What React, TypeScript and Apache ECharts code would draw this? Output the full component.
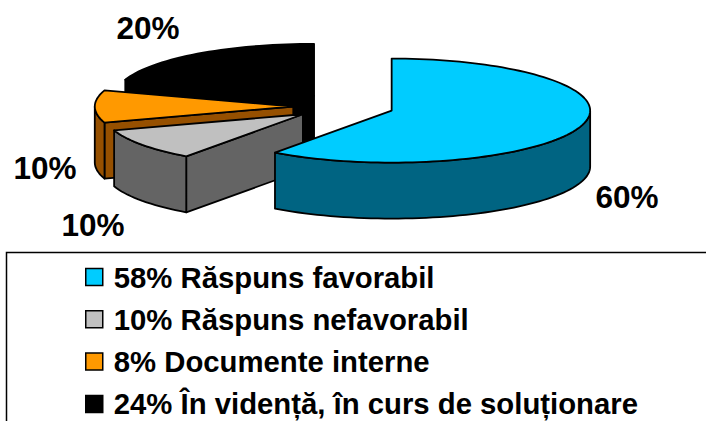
import React, { useEffect, useRef } from "react";
import * as echarts from "echarts";

const legendNames = [
  "58% Răspuns favorabil",
  "10% Răspuns nefavorabil",
  "8% Documente interne",
  "24% În vidență, în curs de soluționare",
];
const sliceValues = [60, 10, 10, 20];
const topColors = ["#00CCFF", "#C0C0C0", "#FF9900", "#000000"];
const sideColors = ["#006482", "#646464", "#965000", "#000000"];
const labelPositions = [
  [627, 197],
  [93, 225],
  [45, 168],
  [148, 28],
];

const CX = 343.7;
const CY = 106.5;
const RX = 198.5;
const RY = 52;
const DEPTH = 56;
const EXPLODE = 0.254;
const LINE = 1.8;
const FONT = "Liberation Sans";

const total = sliceValues.reduce((a, b) => a + b, 0);
const starts: number[] = [];
sliceValues.reduce((acc, v, i) => {
  starts[i] = acc;
  return acc + (v / total) * 360;
}, 0);

const rad = (d: number) => (d * Math.PI) / 180;
const onRim = (ax: number, ay: number, deg: number, dy = 0) => [
  ax + Math.sin(rad(deg)) * RX,
  ay - Math.cos(rad(deg)) * RY + dy,
];
const arc = (ax: number, ay: number, from: number, to: number, dy = 0) => {
  const pts: number[][] = [];
  const steps = Math.max(2, Math.ceil((to - from) / 2));
  for (let i = 0; i <= steps; i++) pts.push(onRim(ax, ay, from + ((to - from) * i) / steps, dy));
  return pts;
};

const makeRenderItem = (index: number) => (_params: any, api: any) => {
  const value = api.value(0) as number;
  const a0 = starts[index];
  const a1 = a0 + (value / total) * 360;
  const mid = (a0 + a1) / 2;
  const ax = CX + Math.sin(rad(mid)) * RX * EXPLODE;
  const ay = CY - Math.cos(rad(mid)) * RY * EXPLODE;
  const style = (fill: string) => ({ fill, stroke: "#000", lineWidth: LINE, lineJoin: "round" });
  const children: any[] = [];
  if (a0 > 180) {
    const p = onRim(ax, ay, a0);
    children.push({
      type: "polygon",
      shape: { points: [[ax, ay], p, [p[0], p[1] + DEPTH], [ax, ay + DEPTH]] },
      style: style(sideColors[index]),
    });
  }
  const w0 = Math.max(a0, 90);
  const w1 = Math.min(a1, 270);
  if (w1 > w0) {
    children.push({
      type: "polygon",
      shape: { points: [...arc(ax, ay, w0, w1), ...arc(ax, ay, w0, w1, DEPTH).reverse()] },
      style: style(sideColors[index]),
    });
  }
  children.push({
    type: "polygon",
    shape: { points: [[ax, ay], ...arc(ax, ay, a0, a1)] },
    style: style(topColors[index]),
  });
  children.push({
    type: "text",
    style: {
      text: `${value}%`,
      x: labelPositions[index][0],
      y: labelPositions[index][1],
      align: "center",
      verticalAlign: "middle",
      fill: "#000",
      font: `bold 31.5px "${FONT}"`,
    },
  });
  return { type: "group", children };
};

export default function App() {
  const ref = useRef<HTMLDivElement>(null);
  useEffect(() => {
    const chart = echarts.init(ref.current!, null, { renderer: "svg" });
    const order = [3, 2, 1, 0];
    chart.setOption({
      animation: false,
      backgroundColor: "#fff",
      legend: {
        data: legendNames.map((name) => ({ name, icon: "rect" })),
        orient: "vertical",
        left: 85,
        top: 262,
        height: 190,
        padding: 0,
        itemWidth: 17,
        itemHeight: 17,
        itemGap: 12.3,
        selectedMode: false,
        itemStyle: { borderColor: "#000", borderWidth: 1.5 },
        textStyle: { fontFamily: FONT, fontWeight: "bold", fontSize: 29.3, color: "#000", padding: [0, 0, 0, 6], lineHeight: 30 },
      },
      graphic: [
        {
          type: "rect",
          z: -1,
          shape: { x: 6.5, y: 252.5, width: 760, height: 260 },
          style: { fill: "none", stroke: "#000", lineWidth: 1.5 },
        },
      ],
      series: order.map((i) => ({
        type: "custom",
        name: legendNames[i],
        coordinateSystem: "none",
        silent: true,
        itemStyle: { color: topColors[i] },
        renderItem: makeRenderItem(i),
        data: [[sliceValues[i]]],
      })),
    });
    return () => chart.dispose();
  }, []);
  return <div ref={ref} style={{ position: "fixed", left: 0, top: 0, width: 706, height: 421 }} />;
}
